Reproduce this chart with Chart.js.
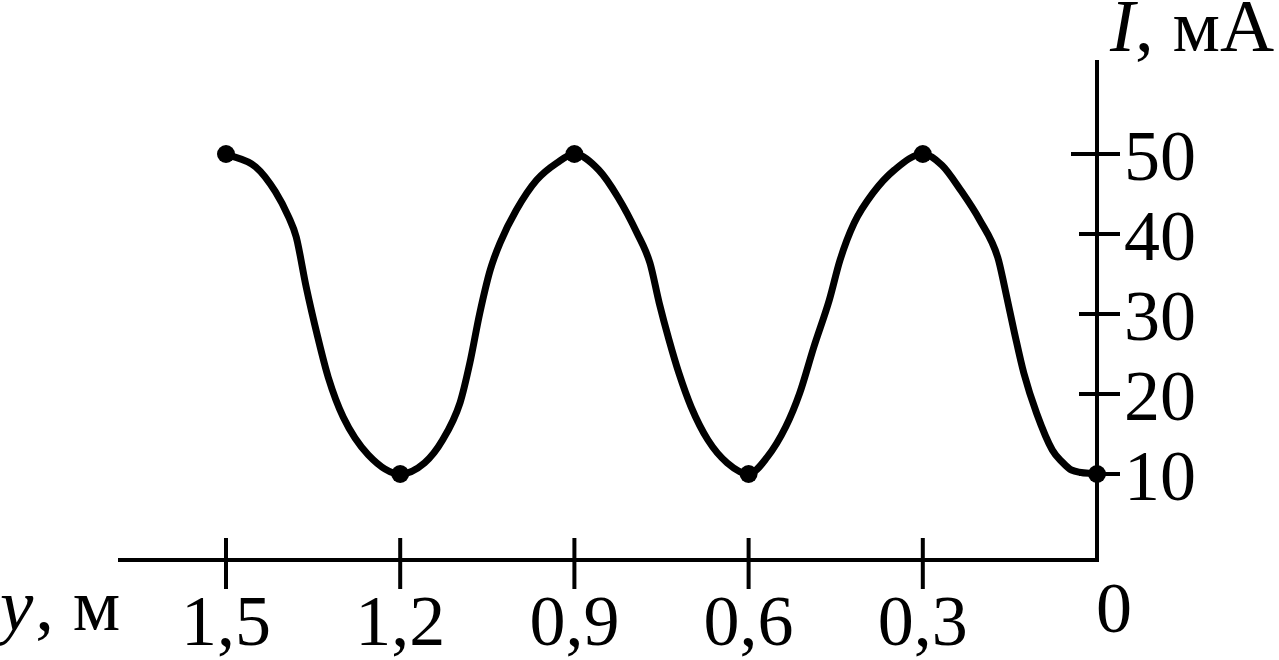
<!DOCTYPE html>
<html>
<head>
<meta charset="utf-8">
<script src="https://cdn.jsdelivr.net/npm/chart.js@4/dist/chart.umd.min.js"></script>
<style>
  html, body { margin: 0; padding: 0; background: #fff; }
  #wrap { width: 1279px; height: 660px; }
</style>
</head>
<body>
<div id="wrap"><canvas id="waveChart" width="1279" height="660"></canvas></div>
<script>
// Curve: y (m) and I (mA)
const curveY = [1.5, 1.449, 1.415, 1.392, 1.379, 1.362, 1.342, 1.324, 1.298, 1.255, 1.2,
                1.158, 1.127, 1.097, 1.080, 1.063, 1.045, 1.028, 1.0, 0.965, 0.930, 0.9,
                0.858, 0.825, 0.792, 0.770, 0.754, 0.737, 0.720, 0.699, 0.670, 0.637, 0.6,
                0.568, 0.536, 0.512, 0.4875, 0.461, 0.4425, 0.418, 0.386, 0.349, 0.3,
                0.267, 0.235, 0.202, 0.171, 0.158, 0.142, 0.126, 0.104, 0.077, 0.060, 0.044, 0];
const curveI = [50, 48.4, 45.3, 42.1, 39.6, 33.4, 27.1, 22.1, 17.1, 12.4, 10,
                11.4, 14.25, 18.9, 23.9, 30.1, 35.5, 38.9, 43, 46.75, 48.9, 50,
                48, 44.6, 40.1, 36.4, 31.4, 26.75, 22.6, 18.4, 14.25, 11.4, 10,
                12.1, 15.9, 20.1, 25.9, 31.75, 36.75, 41.4, 45.1, 48, 50,
                48.6, 45.5, 41.75, 37.1, 33, 27.6, 22.6, 17.6, 13, 11.5, 10.5, 10];

// Marked points (dots)
const markY = [1.5, 1.2, 0.9, 0.6, 0.3, 0];
const markI = [50, 10, 50, 10, 50, 10];

// Tick labels
const xTicks = [1.5, 1.2, 0.9, 0.6, 0.3, 0];
const yTicks = [10, 20, 30, 40, 50];

const FONT = '"Liberation Serif", "Times New Roman", serif';
const INK = '#000';

function toPoints(xs, ys) {
  return xs.map((x, i) => ({ x: x, y: ys[i] }));
}

function fmt(v) {
  return String(v).replace('.', ',');
}

// Draws the axes in the textbook style: ticks crossing the line, labels beside
const axesPlugin = {
  id: 'textbookAxes',
  afterDatasetsDraw(chart) {
    const ctx = chart.ctx;
    const area = chart.chartArea;
    const xs = chart.scales.x;
    const ys = chart.scales.y;
    const x0 = xs.getPixelForValue(0);
    const yBase = area.bottom;

    ctx.save();
    ctx.strokeStyle = INK;
    ctx.fillStyle = INK;
    ctx.lineWidth = 4;
    ctx.lineCap = 'butt';

    // axis lines
    ctx.beginPath();
    ctx.moveTo(area.left, yBase);
    ctx.lineTo(x0 + 2, yBase);
    ctx.moveTo(x0, yBase + 2);
    ctx.lineTo(x0, area.top);
    ctx.stroke();

    // x ticks and labels
    ctx.font = '72px ' + FONT;
    ctx.textBaseline = 'alphabetic';
    xTicks.forEach(v => {
      const px = xs.getPixelForValue(v);
      if (v !== 0) {
        ctx.beginPath();
        ctx.moveTo(px, yBase - 22);
        ctx.lineTo(px, yBase + 29);
        ctx.stroke();
        ctx.textAlign = 'center';
        ctx.fillText(fmt(v), px, 645);
      } else {
        ctx.textAlign = 'left';
        ctx.fillText(fmt(v), px - 1, 632);
      }
    });

    // y ticks and labels
    yTicks.forEach(v => {
      const py = ys.getPixelForValue(v);
      ctx.beginPath();
      ctx.moveTo(x0 - (v === 50 ? 26 : 18), py);
      ctx.lineTo(x0 + 23, py);
      ctx.stroke();
      ctx.textAlign = 'left';
      ctx.fillText(fmt(v), 1124, py + 26);
    });

    // axis titles
    ctx.textAlign = 'left';
    ctx.font = 'italic 75px ' + FONT;
    ctx.fillText('y', 0, 630);
    let w = ctx.measureText('y').width;
    ctx.font = '75px ' + FONT;
    ctx.fillText(', м', w + 2, 630);

    ctx.font = 'italic 75px ' + FONT;
    ctx.fillText('I', 1110, 51);
    w = ctx.measureText('I').width;
    ctx.font = '75px ' + FONT;
    ctx.fillText(', мА', 1110 + w, 51);

    ctx.restore();
  }
};

const chart = new Chart(document.getElementById('waveChart'), {
  type: 'line',
  data: {
    datasets: [{
      data: toPoints(curveY, curveI),
      borderColor: INK,
      borderWidth: 7,
      pointRadius: 0,
      cubicInterpolationMode: 'monotone',
      fill: false,
      clip: false
    }, {
      data: toPoints(markY, markI),
      showLine: false,
      pointRadius: 9,
      pointBackgroundColor: INK,
      pointBorderWidth: 0,
      clip: false
    }]
  },
  options: {
    responsive: false,
    animation: false,
    layout: { padding: { left: 118, right: 182, top: 60, bottom: 100 } },
    plugins: { legend: { display: false }, tooltip: { enabled: false } },
    scales: {
      x: { type: 'linear', reverse: true, min: 0, max: 1.686, display: false },
      y: { type: 'linear', min: -0.75, max: 61.75, display: false }
    }
  },
  plugins: [axesPlugin]
});
</script>
</body>
</html>
